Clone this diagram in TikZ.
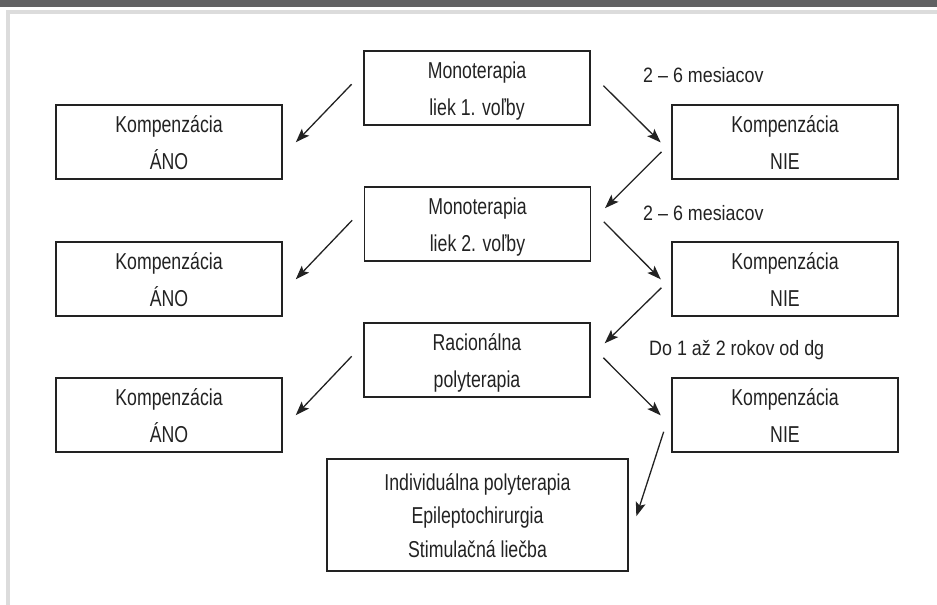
\documentclass[tikz,border=0pt]{standalone}
\usepackage{fontspec}
\setmainfont{Liberation Sans}[FakeStretch=0.86]
\newfontfamily\boxfont{Liberation Sans}[FakeStretch=0.77]
\usetikzlibrary{arrows.meta,calc}
\definecolor{ink}{HTML}{222222}
\definecolor{barc}{HTML}{616163}
\definecolor{framec}{HTML}{DCDCDC}
\newcommand{\lstrut}{\rule[-5pt]{0pt}{27pt}}
\begin{document}
\begin{tikzpicture}[x=1pt,y=-1pt,
  box/.style={draw=ink, line width=1.3pt, minimum width=226pt, minimum height=74pt,
    align=center, text=ink, inner sep=0pt, font=\boxfont\fontsize{23}{37}\selectfont},
  bigbox/.style={box, minimum width=301pt, minimum height=112pt, font=\boxfont\fontsize{23}{33.5}\selectfont},
  lab/.style={text=ink, inner sep=0pt, anchor=base west, font=\fontsize{20.8}{25}\selectfont},
  arr/.style={draw=ink, line width=1.3pt, -{Stealth[length=14pt,width=10pt,inset=3pt]}}]
\useasboundingbox (0,0) rectangle (937,605);
% header and frame
\fill[barc] (0,0) rectangle (937,7);
\fill[framec] (6,10) rectangle (937,14);
\fill[framec] (6,10) rectangle (10,605);
% boxes
\node[box] (m1) at (477,88) {\lstrut Monoterapia\\\lstrut liek 1. voľby};
\node[box] (a1) at (169,142) {\lstrut Kompenzácia\\\lstrut ÁNO};
\node[box] (n1) at (785,142) {\lstrut Kompenzácia\\\lstrut NIE};
\node[box] (m2) at (477.5,224) {\lstrut Monoterapia\\\lstrut liek 2. voľby};
\node[box] (a2) at (169,279) {\lstrut Kompenzácia\\\lstrut ÁNO};
\node[box] (n2) at (785,279) {\lstrut Kompenzácia\\\lstrut NIE};
\node[box] (m3) at (477,360) {\lstrut Racionálna\\\lstrut polyterapia};
\node[box] (a3) at (169,415) {\lstrut Kompenzácia\\\lstrut ÁNO};
\node[box] (n3) at (785,415) {\lstrut Kompenzácia\\\lstrut NIE};
\node[bigbox] (f) at (477.5,515) {\lstrut Individuálna polyterapia\\\lstrut Epileptochirurgia\\\lstrut Stimulačná liečba};
% labels
\node[lab] (l1) at (643,82) {2 – 6 mesiacov};
\node[lab] (l2) at (643,220) {2 – 6 mesiacov};
\node[lab] (l3) at (649,355) {Do 1 až 2 rokov od dg};
% arrows
\draw[arr, shorten <=17pt, shorten >=19pt] ($(m1.west)+(0,-16)$) -- ($(a1.east)+(0,14)$);
\draw[arr, shorten <=18pt, shorten >=15pt] ($(m1.east)+(0,-15)$) -- ($(n1.west)+(0,11)$);
\draw[arr, shorten <=14pt, shorten >=19.6pt] (n1.west) -- ($(m2.east)+(0,-2)$);
\draw[arr, shorten <=17pt, shorten >=19pt] ($(m2.west)+(0,-16)$) -- ($(a2.east)+(0,14)$);
\draw[arr, shorten <=18pt, shorten >=15pt] ($(m2.east)+(0,-15)$) -- ($(n2.west)+(0,11)$);
\draw[arr, shorten <=14pt, shorten >=19.6pt] ($(n2.west)+(0,-1)$) -- ($(m3.east)+(0,-3)$);
\draw[arr, shorten <=17pt, shorten >=19pt] ($(m3.west)+(0,-16)$) -- ($(a3.east)+(0,14)$);
\draw[arr, shorten <=18pt, shorten >=15pt] ($(m3.east)+(0,-15)$) -- ($(n3.west)+(0,11)$);
\draw[arr, shorten <=25pt, shorten >=25pt] ($(n3.west)+(0,-7)$) -- ($(f.east)+(0,25)$);
\end{tikzpicture}
\end{document}
